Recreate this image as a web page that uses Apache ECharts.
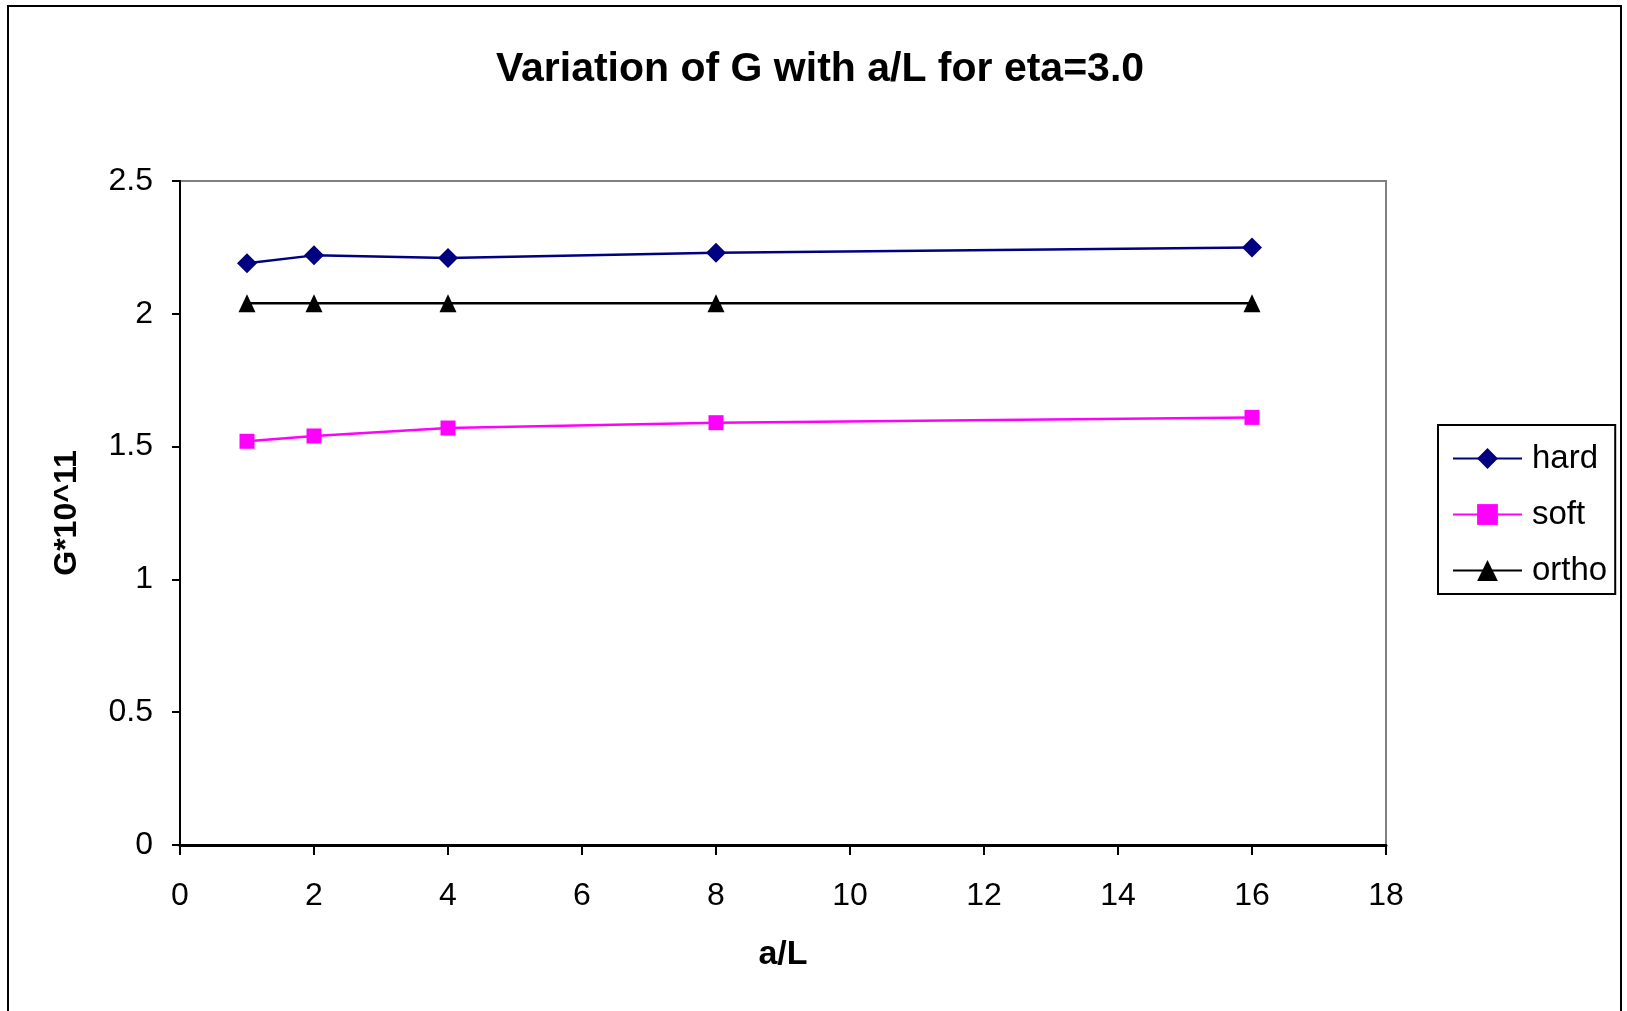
<!DOCTYPE html>
<html>
<head>
<meta charset="utf-8">
<script src="https://cdn.jsdelivr.net/npm/echarts@6/dist/echarts.min.js"></script>
<style>
  html, body { margin: 0; padding: 0; background: #fff; }
  #chart { width: 1627px; height: 1011px; }
</style>
</head>
<body>
<div id="chart"></div>
<script>
// a/L values where G was computed
const aL = [1, 2, 4, 8, 16];
const hard = [2.19, 2.22, 2.21, 2.23, 2.25];
const soft = [1.52, 1.54, 1.57, 1.59, 1.61];
const ortho = [2.04, 2.04, 2.04, 2.04, 2.04];

const FONT = "'Liberation Sans', Arial, sans-serif";

const toPairs = ys => aL.map((x, i) => [x, ys[i]]);

const chart = echarts.init(document.getElementById("chart"), null, { renderer: "canvas" });

chart.setOption({
  animation: false,
  backgroundColor: "#fff",
  textStyle: { fontFamily: FONT },
  title: {
    text: "Variation of G with a/L for eta=3.0",
    left: 815,
    textAlign: "center",
    top: 44,
    textStyle: { fontSize: 41, fontWeight: "bold", color: "#000", fontFamily: FONT }
  },
  grid: { left: 180, right: 241, top: 181, bottom: 166, containLabel: false },
  xAxis: {
    type: "value",
    min: 0,
    max: 18,
    interval: 2,
    name: "a/L",
    nameLocation: "middle",
    nameGap: 93,
    nameTextStyle: { fontSize: 34, fontWeight: "bold", color: "#000", fontFamily: FONT },
    axisLine: { show: true, onZero: false, lineStyle: { color: "#000", width: 3 } },
    axisTick: { show: true, length: 10, lineStyle: { color: "#000", width: 2 } },
    axisLabel: { margin: 35, fontSize: 32, color: "#000", fontFamily: FONT },
    splitLine: { show: false }
  },
  yAxis: {
    type: "value",
    min: 0,
    max: 2.5,
    interval: 0.5,
    name: "G*10^11",
    nameLocation: "middle",
    nameGap: 97,
    nameTextStyle: { fontSize: 32, fontWeight: "bold", color: "#000", fontFamily: FONT },
    axisLine: { show: true, lineStyle: { color: "#000", width: 2 } },
    axisTick: { show: true, length: 8, lineStyle: { color: "#000", width: 2 } },
    axisLabel: { margin: 27, fontSize: 32, color: "#000", fontFamily: FONT },
    splitLine: { show: false }
  },
  legend: {
    orient: "vertical",
    left: 1438,
    top: 425,
    borderColor: "#000",
    borderWidth: 2,
    padding: [17, 8, 7, 14],
    itemWidth: 69,
    itemHeight: 26,
    itemGap: 23,
    textStyle: { fontSize: 33, color: "#000", fontFamily: FONT, lineHeight: 28, padding: [0, 0, 0, 5] },
    data: ["hard", "soft", "ortho"]
  },
  series: [
    {
      name: "hard",
      type: "line",
      data: toPairs(hard),
      symbol: "diamond",
      symbolSize: 20,
      lineStyle: { color: "#000080", width: 2.5 },
      itemStyle: { color: "#000080" }
    },
    {
      name: "soft",
      type: "line",
      data: toPairs(soft),
      symbol: "rect",
      symbolSize: 15,
      lineStyle: { color: "#FF00FF", width: 2.5 },
      itemStyle: { color: "#FF00FF" }
    },
    {
      name: "ortho",
      type: "line",
      data: toPairs(ortho),
      symbol: "triangle",
      symbolSize: [17, 18],
      lineStyle: { color: "#000", width: 2.5 },
      itemStyle: { color: "#000" }
    }
  ],
  graphic: [
    // gray frame on top/right of plot area
    {
      type: "polyline",
      shape: { points: [[180, 181], [1386, 181], [1386, 845]] },
      style: { stroke: "#808080", lineWidth: 2, fill: null },
      silent: true
    },
    // outer chart border
    {
      type: "rect",
      shape: { x: 8, y: 6, width: 1613, height: 1030 },
      style: { stroke: "#000", lineWidth: 2, fill: null },
      silent: true
    }
  ]
});
</script>
</body>
</html>
